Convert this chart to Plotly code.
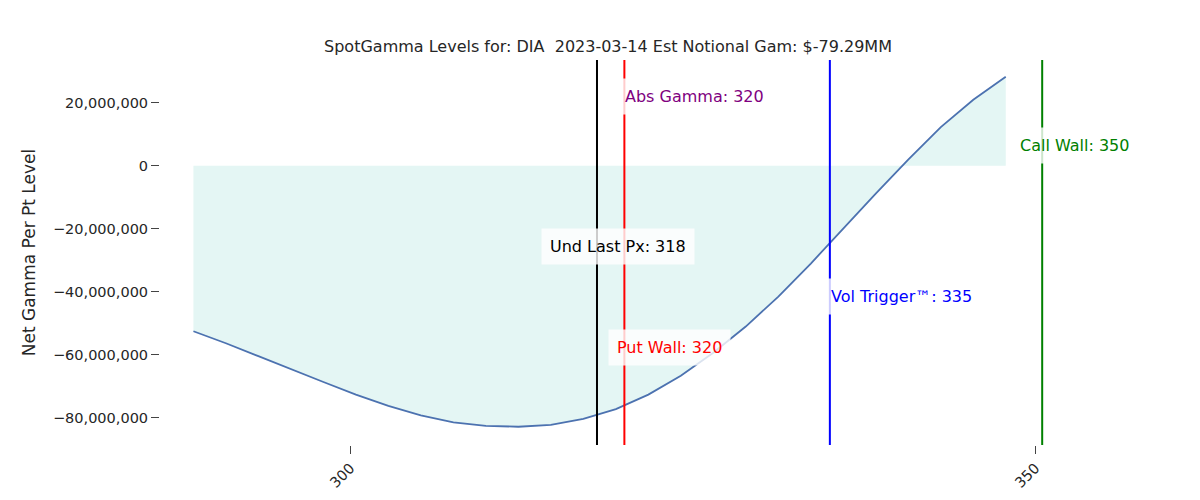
import plotly.graph_objects as go

strikes = [288.54,290.91,293.28,295.66,298.03,300.4,302.77,305.14,307.52,309.89,312.26,314.63,317.0,319.38,321.75,324.12,326.49,328.86,331.24,333.61,335.98,338.35,340.72,343.1,345.47,347.84,350.21]
gamma_mm = [-52.5,-56.3,-60.4,-64.6,-68.6,-72.6,-76.2,-79.2,-81.4,-82.5,-82.8,-82.2,-80.3,-77.2,-72.6,-66.6,-59.3,-51,-41.5,-31,-19.8,-8.8,2,12.3,21,28.3,28.3]
gamma_mm = gamma_mm[:26]
strikes = strikes[:26]
gamma = [v*1e6 for v in gamma_mm]

levels = {"last": 318, "abs": 320, "put": 320, "vol": 335, "call": 350.5}

fig = go.Figure()
fig.add_trace(go.Scatter(x=strikes, y=gamma, mode="lines", fill="tozeroy",
                         fillcolor="#e4f6f4", line=dict(color="#4c72b0", width=1.8)))
for x, c in [(levels["last"], "black"), (levels["abs"], "red"), (levels["vol"], "blue"), (levels["call"], "green")]:
    fig.add_shape(type="line", x0=x, x1=x, y0=0, y1=1, yref="paper", line=dict(color=c, width=2))

def ann(x, y, text, color, xanchor="left"):
    fig.add_annotation(x=x, y=y, text=text, showarrow=False, xanchor=xanchor,
                       font=dict(color=color, size=16), bgcolor="rgba(255,255,255,0.8)",
                       borderpad=8)
ann(levels["abs"]-0.6, 22e6, "Abs Gamma: 320", "purple")
ann(levels["last"]+1.5, -25.5e6, "Und Last Px: 318", "black", "center")
ann(levels["vol"]-0.6, -41.5e6, "Vol Trigger™: 335", "blue")
ann(levels["put"]-1.2, -57.5e6, "Put Wall: 320", "red")
ann(levels["call"]-2.3, 6.5e6, "Call Wall: 350", "green")

fig.update_layout(
    width=1200, height=500, template="none", showlegend=False,
    paper_bgcolor="white", plot_bgcolor="white",
    font=dict(family="DejaVu Sans", size=14.5, color="#262626"),
    title=dict(text="SpotGamma Levels for: DIA  2023-03-14 Est Notional Gam: $-79.29MM",
               x=0.5, y=0.935, xanchor="center", font=dict(size=16)),
    margin=dict(l=152, r=148, t=52, b=63),
    xaxis=dict(range=[286.1, 351.8], tickvals=[300, 350], ticks="outside", ticklen=8,
               tickangle=-45, showgrid=False, zeroline=False, showline=False),
    yaxis=dict(range=[-88.6e6, 33.6e6], tickvals=[-80e6,-60e6,-40e6,-20e6,0,20e6],
               tickformat=",d", ticks="outside", ticklen=8, showgrid=False,
               zeroline=False, showline=False,
               title=dict(text="Net Gamma Per Pt Level", standoff=12)),
)
fig.write_html("out.html")
